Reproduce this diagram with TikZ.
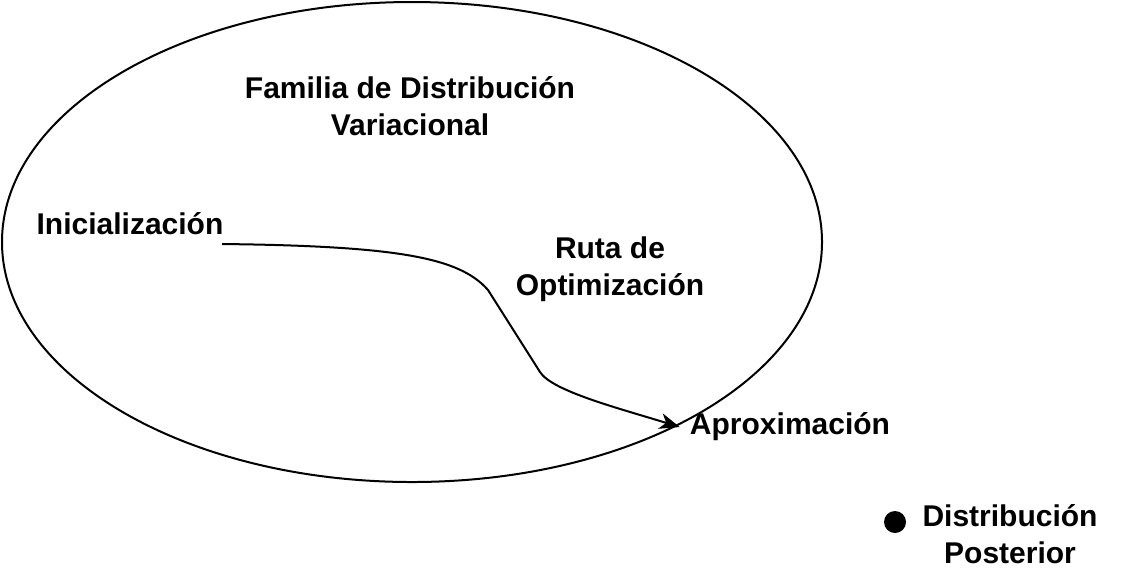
\documentclass[tikz,border=0pt]{standalone}
\usepackage{fontspec}
\setmainfont{Liberation Sans}
\usetikzlibrary{arrows.meta,positioning}
\tikzset{
  lbl/.style={font=\fontsize{15}{18.5}\selectfont\bfseries,align=center,inner sep=0pt},
  famline/.style={line width=1pt},
  arr/.style={-{Stealth[length=10pt,width=8pt,inset=3pt]},line width=1pt},
  ptdot/.style={circle,fill=black,minimum size=11pt,inner sep=0pt}
}

\begin{document}
\begin{tikzpicture}[x=0.5pt,y=-0.5pt]
  \useasboundingbox (0,0) rectangle (1122,570);
  % Variational family
  \draw[famline] (412,242) ellipse [x radius=410, y radius=240];
  \node[lbl] (fam) at (410,106) {Familia de Distribución\\Variacional};

  % Labels inside the family
  \node[lbl] (init) at (130,224) {Inicialización};
  \node[lbl] (ruta) at (610,269) {Ruta de\\Optimización};
  \node[lbl] (aprox) at (790,427) {Aproximación};

  % Posterior
  \node[lbl] (post) at (1010,534) {Distribución\\Posterior};
  \node[ptdot] (dot) at (895,522) {};

  % Optimization path
  \coordinate (start) at (222,244);
  \coordinate (tip) at ([xshift=-5pt]aprox.west);
  \draw[arr] (start) .. controls (400,246) and (460,258) .. (488,290)
    -- (540,372) .. controls (552,391) and (618,408) .. (tip);
\end{tikzpicture}
\end{document}
